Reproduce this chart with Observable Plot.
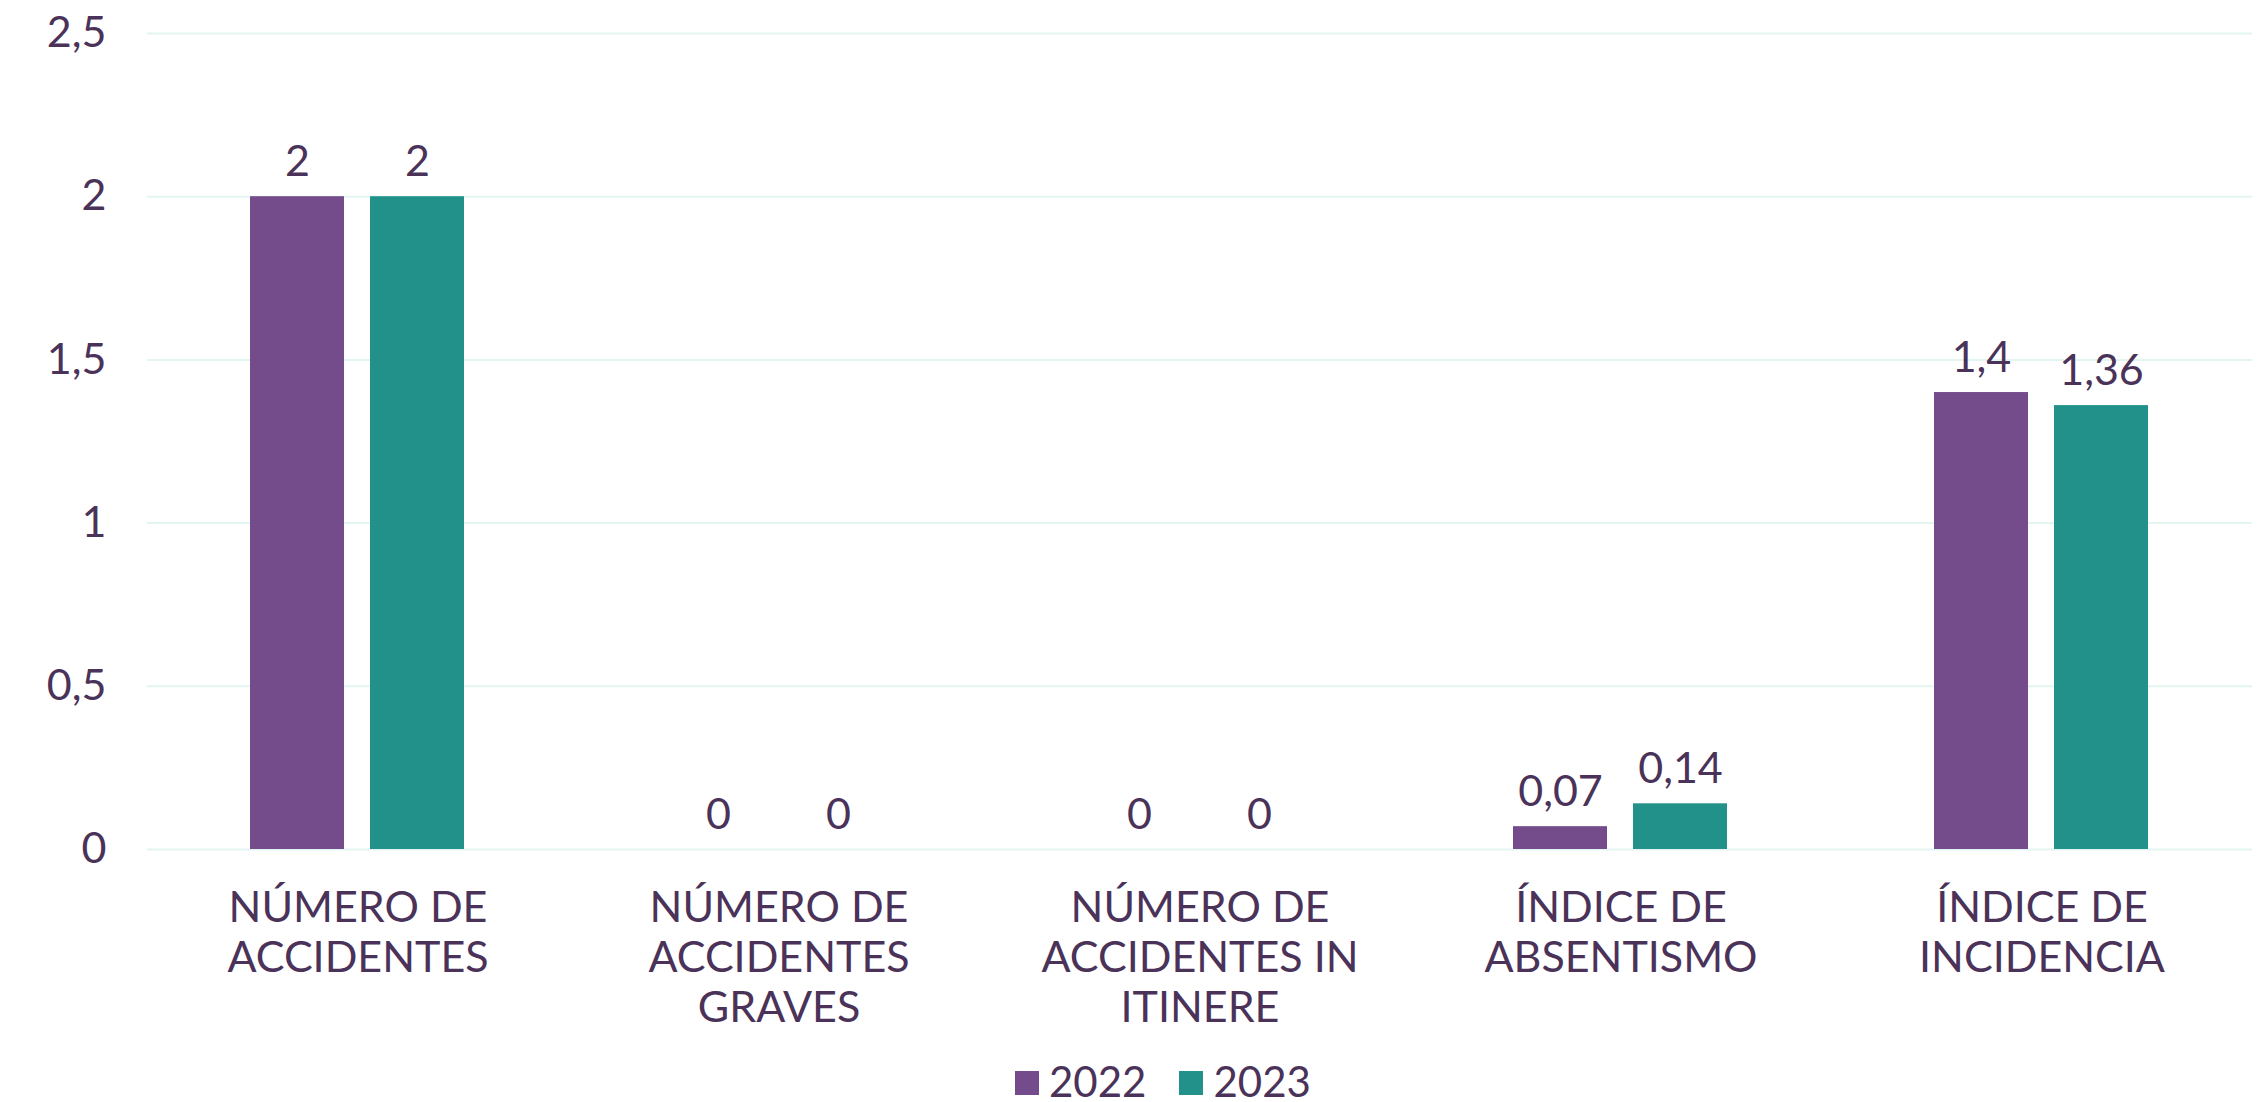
<!DOCTYPE html>
<html>
<head>
<meta charset="utf-8">
<script src="https://cdn.jsdelivr.net/npm/d3@7"></script>
<script src="https://cdn.jsdelivr.net/npm/@observablehq/plot@0.6"></script>
<style>
  html, body { margin: 0; padding: 0; background: #ffffff; }
  body { width: 2265px; height: 1102px; position: relative; overflow: hidden; font-family: Lato, sans-serif; color: #4a3259; }
  #chart svg { display: block; overflow: visible; }
  #legend { position: absolute; left: 1015px; top: 1058px; display: flex; align-items: center; font-size: 42px; line-height: 46px; }
  .item { display: flex; align-items: center; margin-right: 33px; }
  .sw { width: 24px; height: 24px; margin-right: 10px; margin-top: 4px; }
</style>
</head>
<body>
<div id="chart"></div>
<div id="legend"></div>
<script>
const categories = ["NÚMERO DE ACCIDENTES", "NÚMERO DE ACCIDENTES GRAVES", "NÚMERO DE ACCIDENTES IN ITINERE", "ÍNDICE DE ABSENTISMO", "ÍNDICE DE INCIDENCIA"];
const categoryLabels = ["NÚMERO DE\nACCIDENTES", "NÚMERO DE\nACCIDENTES\nGRAVES", "NÚMERO DE\nACCIDENTES IN\nITINERE", "ÍNDICE DE\nABSENTISMO", "ÍNDICE DE\nINCIDENCIA"];
const years = ["2022", "2023"];
const values2022 = [2, 0, 0, 0.07, 1.4];
const values2023 = [2, 0, 0, 0.14, 1.36];
const yTicks = [0, 0.5, 1, 1.5, 2, 2.5];
const colors = ["#754c8b", "#21918a"];

const fmt = d => String(d).replace(".", ",");
const labelOf = new Map(categories.map((c, i) => [c, categoryLabels[i]]));
const data = categories.flatMap((c, i) => [
  {cat: c, year: years[0], value: values2022[i]},
  {cat: c, year: years[1], value: values2023[i]}
]);

const H = 1050;
const chart = Plot.plot({
  width: 2265,
  height: H,
  marginTop: 33,
  marginBottom: H - 849,
  marginLeft: 145,
  marginRight: 11,
  style: {fontFamily: "Lato", fontSize: "43px", color: "#4a3259", background: "#ffffff"},
  fx: {domain: categories, padding: 0, label: null},
  x: {domain: years, paddingInner: 0.215, paddingOuter: 0.85, axis: null},
  y: {domain: [0, 2.5], label: null},
  color: {domain: years, range: colors},
  marks: [
    Plot.gridY(yTicks, {stroke: "#e3f5f1", strokeOpacity: 1, strokeWidth: 2}),
    Plot.barY(data, {fx: "cat", x: "year", y: "value", fill: "year"}),
    Plot.text(data, {fx: "cat", x: "year", y: "value", text: d => fmt(d.value), dy: -21, lineAnchor: "bottom", fill: "#4a3259", fontSize: 43}),
    Plot.axisY(yTicks, {tickSize: 0, tickPadding: 41, tickFormat: fmt, fontSize: 43, fill: "#4a3259", label: null}),
    Plot.axisFx({anchor: "bottom", tickSize: 0, tickPadding: 37, tickFormat: c => labelOf.get(c), lineHeight: 1.16, fontSize: 43, fill: "#4a3259", label: null})
  ]
});
document.getElementById("chart").append(chart);

const legend = document.getElementById("legend");
years.forEach((y, i) => {
  const item = document.createElement("div");
  item.className = "item";
  const sw = document.createElement("div");
  sw.className = "sw";
  sw.style.background = colors[i];
  const t = document.createElement("span");
  t.textContent = y;
  item.append(sw, t);
  legend.append(item);
});
</script>
</body>
</html>
